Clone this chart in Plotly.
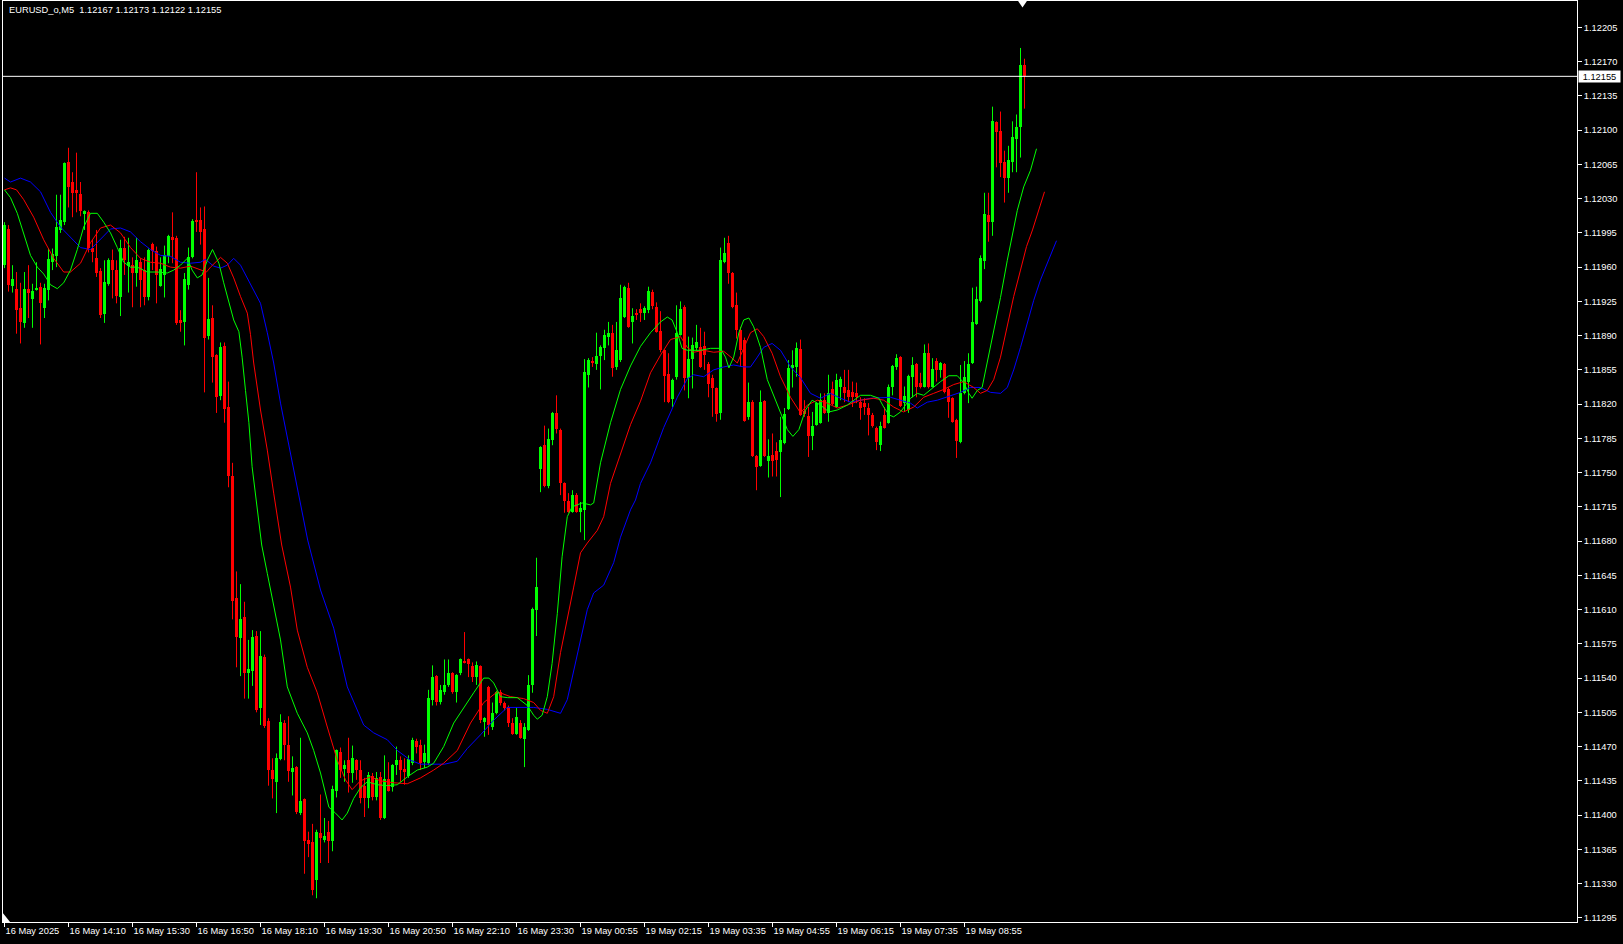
import plotly.graph_objects as go

SYMBOL = "EURUSD_o,M5"

OPEN = [
1.11962,1.11999,1.11941,1.11938,1.11918,1.11903,1.11938,1.11927,1.11937,1.11940,1.11918,1.11937,1.11965,1.11971,1.11998,1.12006,
1.12067,1.12047,1.12038,1.12035,1.12015,1.12016,1.11980,1.11969,1.11956,1.11912,1.11943,1.11967,1.11957,1.11929,1.11980,1.11961,
1.11962,1.11954,1.11965,1.11957,1.11929,1.11984,1.11976,1.11941,1.11952,1.11971,1.11991,1.11990,1.11906,1.11904,1.11942,1.11970,
1.12008,1.12008,1.11999,1.11890,1.11908,1.11870,1.11828,1.11879,1.11817,1.11747,1.11622,1.11581,1.11602,1.11545,1.11547,1.11583,
1.11509,1.11562,1.11496,1.11446,1.11434,1.11457,1.11494,1.11472,1.11444,1.11449,1.11402,1.11416,1.11375,1.11372,1.11334,1.11382,
1.11375,1.11383,1.11373,1.11425,1.11464,1.11447,1.11456,1.11443,1.11456,1.11446,1.11430,1.11417,1.11440,1.11418,1.11439,1.11397,
1.11437,1.11429,1.11451,1.11456,1.11447,1.11440,1.11453,1.11476,1.11472,1.11454,1.11453,1.11518,1.11542,1.11516,1.11526,1.11533,
1.11545,1.11526,1.11545,1.11557,1.11559,1.11552,1.11541,1.11552,1.11495,1.11531,1.11490,1.11504,1.11526,1.11515,1.11510,1.11494,
1.11483,1.11494,1.11478,1.11487,1.11533,1.11610,1.11754,1.11778,1.11736,1.11783,1.11811,1.11794,1.11739,1.11721,1.11710,1.11727,
1.11710,1.11712,1.11850,1.11864,1.11861,1.11869,1.11877,1.11889,1.11893,1.11858,1.11865,1.11909,1.11939,1.11904,1.11913,1.11917,
1.11913,1.11916,1.11935,1.11919,1.11895,1.11875,1.11851,1.11825,1.11848,1.11891,1.11919,1.11847,1.11866,1.11877,1.11878,1.11879,
1.11861,1.11847,1.11836,1.11811,1.11965,1.11985,1.11954,1.11921,1.11896,1.11886,1.11807,1.11822,1.11767,1.11757,1.11823,1.11762,
1.11768,1.11772,1.11771,1.11780,1.11815,1.11857,1.11858,1.11876,1.11812,1.11808,1.11787,1.11799,1.11801,1.11824,1.11811,1.11835,
1.11817,1.11837,1.11838,1.11834,1.11832,1.11831,1.11822,1.11821,1.11816,1.11809,1.11796,1.11778,1.11809,1.11801,1.11837,1.11858,
1.11868,1.11821,1.11814,1.11848,1.11861,1.11842,1.11838,1.11872,1.11838,1.11864,1.11855,1.11861,1.11835,1.11826,1.11804,1.11781,
1.11831,1.11843,1.11862,1.11902,1.11925,1.11966,1.12013,1.12006,1.12108,1.12099,1.12067,1.12051,1.12067,1.12091,1.12103,1.12167,
]

HIGH = [
1.12006,1.12003,1.11962,1.11955,1.11944,1.11955,1.11962,1.11943,1.11965,1.11944,1.11943,1.11979,1.11979,1.12034,1.12034,1.12067,
1.12082,1.12057,1.12077,1.12047,1.12018,1.12018,1.11988,1.11998,1.11959,1.11967,1.11969,1.11978,1.11967,1.11988,1.11991,1.11990,
1.11970,1.11990,1.11969,1.11970,1.11979,1.11985,1.11981,1.11970,1.11982,1.11993,1.12016,1.11992,1.11916,1.11954,1.11980,1.12009,
1.12057,1.12021,1.12022,1.11949,1.11921,1.11871,1.11883,1.11883,1.11843,1.11760,1.11649,1.11636,1.11618,1.11579,1.11589,1.11588,
1.11588,1.11564,1.11499,1.11458,1.11463,1.11503,1.11497,1.11501,1.11460,1.11450,1.11479,1.11417,1.11383,1.11391,1.11385,1.11421,
1.11397,1.11394,1.11430,1.11467,1.11469,1.11456,1.11479,1.11471,1.11457,1.11456,1.11438,1.11444,1.11443,1.11444,1.11444,1.11461,
1.11454,1.11452,1.11470,1.11460,1.11458,1.11461,1.11479,1.11478,1.11477,1.11472,1.11528,1.11553,1.11543,1.11533,1.11559,1.11559,
1.11546,1.11544,1.11560,1.11587,1.11560,1.11556,1.11557,1.11553,1.11500,1.11532,1.11515,1.11527,1.11528,1.11516,1.11512,1.11499,
1.11510,1.11497,1.11494,1.11543,1.11612,1.11663,1.11777,1.11798,1.11795,1.11812,1.11829,1.11795,1.11740,1.11729,1.11732,1.11729,
1.11720,1.11866,1.11867,1.11868,1.11893,1.11880,1.11896,1.11904,1.11901,1.11904,1.11942,1.11941,1.11944,1.11918,1.11917,1.11923,
1.11920,1.11940,1.11937,1.11924,1.11915,1.11876,1.11872,1.11846,1.11921,1.11925,1.11921,1.11889,1.11888,1.11901,1.11898,1.11894,
1.11863,1.11850,1.11837,1.11980,1.11990,1.11992,1.11955,1.11934,1.11899,1.11888,1.11842,1.11824,1.11768,1.11834,1.11824,1.11784,
1.11790,1.11781,1.11807,1.11816,1.11865,1.11875,1.11883,1.11886,1.11824,1.11817,1.11812,1.11822,1.11831,1.11831,1.11850,1.11843,
1.11851,1.11848,1.11855,1.11855,1.11843,1.11842,1.11827,1.11826,1.11821,1.11811,1.11797,1.11802,1.11817,1.11840,1.11860,1.11871,
1.11869,1.11838,1.11850,1.11868,1.11862,1.11852,1.11881,1.11882,1.11867,1.11867,1.11863,1.11862,1.11837,1.11827,1.11805,1.11860,
1.11864,1.11872,1.11939,1.11940,1.11972,1.12036,1.12036,1.12124,1.12109,1.12119,1.12079,1.12084,1.12109,1.12116,1.12184,1.12173,
]

LOW = [
1.11959,1.11935,1.11934,1.11892,1.11882,1.11898,1.11908,1.11898,1.11936,1.11881,1.11908,1.11926,1.11957,1.11960,1.11995,1.12003,
1.12021,1.12011,1.12016,1.12012,1.11998,1.11975,1.11965,1.11950,1.11908,1.11903,1.11941,1.11928,1.11923,1.11910,1.11952,1.11934,
1.11919,1.11940,1.11919,1.11921,1.11926,1.11957,1.11923,1.11940,1.11929,1.11964,1.11964,1.11901,1.11894,1.11880,1.11937,1.11969,
1.11996,1.11983,1.11832,1.11886,1.11842,1.11811,1.11824,1.11801,1.11735,1.11600,1.11551,1.11542,1.11519,1.11519,1.11532,1.11505,
1.11492,1.11489,1.11430,1.11417,1.11402,1.11456,1.11456,1.11434,1.11420,1.11401,1.11400,1.11340,1.11357,1.11318,1.11315,1.11351,
1.11372,1.11351,1.11363,1.11418,1.11438,1.11434,1.11423,1.11433,1.11436,1.11412,1.11398,1.11407,1.11415,1.11415,1.11395,1.11396,
1.11424,1.11424,1.11441,1.11434,1.11431,1.11438,1.11451,1.11463,1.11446,1.11448,1.11451,1.11512,1.11512,1.11513,1.11523,1.11531,
1.11524,1.11515,1.11543,1.11555,1.11541,1.11536,1.11533,1.11494,1.11480,1.11482,1.11487,1.11503,1.11512,1.11507,1.11490,1.11482,
1.11482,1.11478,1.11449,1.11486,1.11525,1.11583,1.11730,1.11735,1.11734,1.11778,1.11790,1.11727,1.11709,1.11709,1.11709,1.11709,
1.11689,1.11681,1.11837,1.11858,1.11855,1.11835,1.11865,1.11880,1.11848,1.11855,1.11863,1.11908,1.11898,1.11882,1.11906,1.11904,
1.11906,1.11913,1.11917,1.11893,1.11873,1.11822,1.11821,1.11817,1.11845,1.11890,1.11834,1.11826,1.11836,1.11875,1.11857,1.11855,
1.11827,1.11807,1.11802,1.11804,1.11964,1.11943,1.11918,1.11887,1.11858,1.11802,1.11804,1.11766,1.11732,1.11756,1.11766,1.11745,
1.11746,1.11746,1.11725,1.11779,1.11814,1.11837,1.11848,1.11808,1.11807,1.11766,1.11773,1.11798,1.11800,1.11810,1.11802,1.11819,
1.11816,1.11824,1.11822,1.11822,1.11817,1.11821,1.11804,1.11809,1.11788,1.11796,1.11773,1.11772,1.11795,1.11800,1.11829,1.11855,
1.11817,1.11812,1.11811,1.11827,1.11827,1.11836,1.11837,1.11836,1.11837,1.11843,1.11847,1.11831,1.11806,1.11801,1.11765,1.11780,
1.11830,1.11821,1.11861,1.11901,1.11924,1.11958,1.11986,1.11992,1.12062,1.12052,1.12026,1.12036,1.12057,1.12057,1.12072,1.12122,
]

CLOSE = [
1.12003,1.11942,1.11948,1.11916,1.11904,1.11938,1.11934,1.11936,1.11939,1.11923,1.11939,1.11968,1.11973,1.12001,1.12008,1.12066,
1.12042,1.12036,1.12036,1.12017,1.12017,1.11980,1.11975,1.11954,1.11911,1.11945,1.11967,1.11957,1.11930,1.11980,1.11967,1.11965,
1.11954,1.11967,1.11947,1.11929,1.11978,1.11976,1.11952,1.11958,1.11972,1.11992,1.11988,1.11903,1.11903,1.11948,1.11970,1.12007,
1.12006,1.11996,1.11888,1.11907,1.11868,1.11827,1.11878,1.11815,1.11747,1.11619,1.11582,1.11600,1.11545,1.11549,1.11582,1.11507,
1.11563,1.11491,1.11446,1.11437,1.11458,1.11495,1.11472,1.11445,1.11448,1.11403,1.11414,1.11373,1.11370,1.11323,1.11383,1.11377,
1.11379,1.11373,1.11427,1.11466,1.11446,1.11451,1.11443,1.11458,1.11446,1.11417,1.11417,1.11441,1.11418,1.11438,1.11397,1.11437,
1.11425,1.11451,1.11456,1.11446,1.11444,1.11457,1.11477,1.11470,1.11453,1.11463,1.11520,1.11541,1.11516,1.11528,1.11533,1.11545,
1.11526,1.11543,1.11559,1.11556,1.11554,1.11541,1.11553,1.11497,1.11499,1.11492,1.11504,1.11526,1.11515,1.11509,1.11494,1.11483,
1.11500,1.11479,1.11490,1.11533,1.11611,1.11633,1.11776,1.11736,1.11784,1.11811,1.11795,1.11739,1.11721,1.11710,1.11727,1.11710,
1.11714,1.11853,1.11865,1.11862,1.11869,1.11878,1.11891,1.11893,1.11857,1.11875,1.11928,1.11940,1.11899,1.11910,1.11911,1.11913,
1.11918,1.11936,1.11920,1.11894,1.11875,1.11849,1.11822,1.11845,1.11893,1.11917,1.11847,1.11866,1.11880,1.11883,1.11858,1.11870,
1.11841,1.11836,1.11810,1.11967,1.11974,1.11954,1.11919,1.11896,1.11875,1.11803,1.11822,1.11767,1.11756,1.11822,1.11767,1.11767,
1.11762,1.11763,1.11783,1.11810,1.11857,1.11860,1.11877,1.11809,1.11810,1.11787,1.11798,1.11821,1.11824,1.11811,1.11831,1.11820,
1.11845,1.11846,1.11831,1.11827,1.11827,1.11827,1.11816,1.11817,1.11809,1.11798,1.11781,1.11798,1.11796,1.11837,1.11859,1.11867,
1.11818,1.11828,1.11849,1.11860,1.11838,1.11837,1.11872,1.11837,1.11856,1.11855,1.11862,1.11832,1.11822,1.11802,1.11782,1.11831,
1.11848,1.11861,1.11904,1.11927,1.11969,1.12014,1.12006,1.12109,1.12098,1.12066,1.12051,1.12069,1.12093,1.12103,1.12167,1.12155,
]

# Bill Williams Alligator lines (bar index, price)
LIPS_X = [0,1.5,3.2,4.8,6.5,8.2,9.8,11.5,13.2,14.8,16.5,18.2,19.8,21.5,23.2,24.8,26.5,28.2,29.8,31.5,
          33.2,35.7,38.2,40.7,42.3,44,45.7,46.9,48.2,49.4,50.7,52,53.6,54.8,56.1,57.3,58.6,59.4,60.25,61.1,
          61.9,63.2,64.3,65.7,67.3,69,70.7,73.2,75.7,77.3,79,81.1,82.75,84.4,85.7,87.3,89,90.7,93.2,95.7,
          98.2,100.7,103.2,105.7,107.3,109.8,112.3,114.8,117.3,119.8,121.1,122.3,124,125.7,128.2,130.7,132.3,133.2,134.4,135.7,
          136.9,138.2,139.4,140.7,141.9,144.4,146.5,147.3,149,151.5,154,156.5,159,161.5,164,165.7,166.9,168.2,169.4,170.7,
          174,176.5,179,180.25,181.1,182.3,183.6,184.8,186.1,187.3,189,190.7,192.3,194,195.7,197.1,198.6,200.25,201.9,204,
          206.1,208.2,210.7,214,216.5,218.6,219.8,221.1,222.3,224,225.25,226.5,228.2,229.8,231.9,234,236.1,238.2,239.8,241.1,
          241.9,243.2,244.4,245.7,247.3,249,250.7,251.7,253.2,254.8,256.5,258]
LIPS_Y = [1.12039,1.12031,1.12015,1.11993,1.11972,1.11960,1.11953,1.11942,1.11938,1.11944,
          1.11957,1.11978,1.12001,1.12015,1.12015,1.12006,1.11995,1.11980,1.11965,1.11960,
          1.11960,1.11955,1.11955,1.11954,1.11957,1.11962,1.11969,1.11957,1.11949,1.11952,
          1.11967,1.11978,1.11964,1.11944,1.11923,1.11906,1.11894,1.11868,1.11834,1.11801,
          1.11756,1.11712,1.11676,1.11647,1.11613,1.11579,1.11531,1.11504,1.11484,1.11466,
          1.11443,1.11408,1.11402,1.11395,1.11402,1.11417,1.11428,1.11434,1.11431,1.11430,
          1.11431,1.11439,1.11446,1.11449,1.11453,1.11470,1.11494,1.11510,1.11525,1.11540,
          1.11540,1.11535,1.11521,1.11520,1.11520,1.11512,1.11502,1.11498,1.11502,1.11521,
          1.11555,1.11606,1.11664,1.11705,1.11715,1.11719,1.11717,1.11719,1.11760,1.11801,
          1.11835,1.11859,1.11879,1.11893,1.11904,1.11909,1.11906,1.11893,1.11877,1.11875,
          1.11875,1.11877,1.11877,1.11868,1.11857,1.11868,1.11893,1.11906,1.11908,1.11899,
          1.11878,1.11845,1.11829,1.11811,1.11794,1.11787,1.11794,1.11814,1.11824,1.11819,
          1.11812,1.11814,1.11819,1.11829,1.11829,1.11826,1.11817,1.11809,1.11807,1.11812,
          1.11819,1.11826,1.11831,1.11829,1.11836,1.11843,1.11849,1.11849,1.11842,1.11831,
          1.11826,1.11834,1.11837,1.11862,1.11896,1.11929,1.11967,1.11988,1.12018,1.12042,
          1.12059,1.12081]

TEETH_X = [0,1.5,3,4.8,7.3,9.8,12.3,14.8,16.5,19,21.5,24,26.5,29,31.5,34,36.5,39,41.5,44,
           46.5,49,50.5,51.5,54,55.7,57.3,59,60.7,61.5,62.3,64,65.7,67.3,69.3,71.5,73.2,75.7,78.2,80.7,
           83.2,85.25,86.9,89,91.5,94,97.3,100.7,104,107.3,109.8,113.2,116.5,119.8,123.2,126.5,129.8,132.3,134,135.7,
           137.3,139,140.7,142.3,144,145.7,148.2,149.8,151.5,154,156.5,159,161.5,164,166.5,169,170.7,172.3,174.8,177.3,
           179.8,181.9,183.2,184.8,186.5,188.2,189.8,191.9,194,196.5,199,200.7,203.2,205.7,208.2,210.7,214,217.3,219.8,222.3,
           224.8,227.3,229.8,232.3,234.8,237.3,239.8,242.3,244,245.7,247.3,249,250.7,252.3,254,255.5,257,258.8,260]
TEETH_Y = [1.12039,1.12041,1.12039,1.12029,1.12011,1.11988,1.11969,1.11955,1.11955,1.11964,
           1.11985,1.12000,1.12003,1.11995,1.11980,1.11969,1.11965,1.11964,1.11960,1.11959,
           1.11961,1.11957,1.11955,1.11960,1.11970,1.11964,1.11949,1.11930,1.11913,1.11891,
           1.11862,1.11814,1.11773,1.11729,1.11676,1.11633,1.11589,1.11551,1.11525,1.11490,
           1.11456,1.11436,1.11426,1.11435,1.11439,1.11435,1.11433,1.11432,1.11438,1.11446,
           1.11453,1.11466,1.11494,1.11515,1.11526,1.11521,1.11519,1.11515,1.11507,1.11504,
           1.11521,1.11566,1.11599,1.11633,1.11668,1.11678,1.11691,1.11705,1.11739,1.11768,
           1.11799,1.11823,1.11852,1.11870,1.11886,1.11889,1.11878,1.11873,1.11875,1.11873,
           1.11874,1.11867,1.11862,1.11877,1.11893,1.11897,1.11889,1.11872,1.11848,1.11827,
           1.11811,1.11819,1.11824,1.11821,1.11816,1.11819,1.11824,1.11826,1.11824,1.11817,
           1.11812,1.11817,1.11827,1.11831,1.11835,1.11840,1.11843,1.11837,1.11831,1.11834,
           1.11845,1.11868,1.11899,1.11930,1.11957,1.11981,1.11998,1.12020,1.12037]

JAW_X = [0,1.5,4,6.5,9,11.5,14,16.5,19,21.5,24,26.5,29,31.5,34,36.5,39,41.5,44,46.5,
         49,50.2,52.3,54,55.7,57.3,59,60.7,62.3,64,65.7,67.3,69,70.7,72.3,74,75.8,79,82.3,85.7,
         89.8,92.3,95.7,98.2,101.5,104,107.3,110,113.2,115.7,119,122.3,125.7,129,132.3,135.7,139,140.7,142.3,144,
         145.7,147.3,149.8,152.3,154,156.5,157.75,159,161.5,164.8,168.2,170.7,172.3,174.8,177.3,179.8,182.3,184.8,186.5,188.2,
         189.8,191.9,194,196.5,199,201.5,204,206.5,209,211.5,214,216.5,221.5,224,226.5,228.2,230.7,233.2,236.5,239,
         241.5,244,246.5,249,250.7,252.3,254,255.7,257.3,259,261,263]
JAW_Y = [1.12051,1.12047,1.12051,1.12047,1.12037,1.12016,1.12001,1.11991,1.11980,1.11978,
         1.11988,1.11999,1.12000,1.11996,1.11986,1.11978,1.11972,1.11971,1.11965,1.11964,
         1.11965,1.11968,1.11961,1.11959,1.11962,1.11969,1.11962,1.11949,1.11937,1.11923,
         1.11893,1.11862,1.11821,1.11786,1.11753,1.11719,1.11681,1.11630,1.11591,1.11531,
         1.11492,1.11484,1.11477,1.11466,1.11456,1.11452,1.11452,1.11452,1.11455,1.11468,
         1.11482,1.11497,1.11510,1.11510,1.11510,1.11508,1.11504,1.11518,1.11548,1.11579,
         1.11610,1.11627,1.11635,1.11658,1.11684,1.11712,1.11722,1.11739,1.11760,1.11796,
         1.11827,1.11846,1.11850,1.11848,1.11855,1.11858,1.11860,1.11858,1.11858,1.11868,
         1.11878,1.11882,1.11875,1.11858,1.11847,1.11831,1.11826,1.11831,1.11826,1.11822,
         1.11824,1.11826,1.11827,1.11824,1.11821,1.11816,1.11822,1.11824,1.11829,1.11832,
         1.11837,1.11837,1.11832,1.11831,1.11837,1.11855,1.11878,1.11903,1.11926,1.11947,
         1.11967,1.11987]

TIME_TICK_BARS = [0,16,32,48,64,80,96,112,128,144,160,176,192,208,224,240]
TIME_TICK_LABELS = ["16 May 2025","16 May 14:10","16 May 15:30","16 May 16:50","16 May 18:10",
                    "16 May 19:30","16 May 20:50","16 May 22:10","16 May 23:30","19 May 00:55",
                    "19 May 02:15","19 May 03:35","19 May 04:55","19 May 06:15","19 May 07:35",
                    "19 May 08:55"]
PRICE_TICK_LABELS = ["1.11295","1.11330","1.11365","1.11400","1.11435","1.11470","1.11505",
                     "1.11540","1.11575","1.11610","1.11645","1.11680","1.11715","1.11750",
                     "1.11785","1.11820","1.11855","1.11890","1.11925","1.11960","1.11995",
                     "1.12030","1.12065","1.12100","1.12135","1.12170","1.12205"]

BULL = "#00ff00"
BEAR = "#ff0000"
FONT = "Liberation Sans, Arial, sans-serif"
FS = 9.3

bars = list(range(len(OPEN)))
fig = go.Figure()

# wicks
for color, up in ((BULL, True), (BEAR, False)):
    xs, ys = [], []
    for i, (o, h, l, c) in enumerate(zip(OPEN, HIGH, LOW, CLOSE)):
        if (c >= o) == up:
            xs += [i, i, None]
            ys += [l, h, None]
    fig.add_trace(go.Scatter(x=xs, y=ys, mode="lines", line=dict(color=color, width=1),
                             hoverinfo="skip", showlegend=False))

# bodies
fig.add_trace(go.Bar(
    x=bars, y=[c - o for o, c in zip(OPEN, CLOSE)], base=OPEN, width=0.75,
    marker=dict(color=[BULL if c >= o else BEAR for o, c in zip(OPEN, CLOSE)], line=dict(width=0)),
    hoverinfo="skip", showlegend=False))

# alligator
for xs, ys, col in ((JAW_X, JAW_Y, "#0000ff"), (TEETH_X, TEETH_Y, "#ff0000"), (LIPS_X, LIPS_Y, "#00ff00")):
    fig.add_trace(go.Scatter(x=xs, y=ys, mode="lines", line=dict(color=col, width=1),
                             hoverinfo="skip", showlegend=False))

last = CLOSE[-1]
fig.add_shape(type="line", xref="paper", x0=0, x1=1, yref="y", y0=last, y1=last,
              line=dict(color="#ffffff", width=1), layer="above")
# shift marker at top and corner marker
fig.add_shape(type="path", xref="x", yref="paper",
              path=f"M {len(OPEN)-2.6},1 L {len(OPEN)-0.4},1 L {len(OPEN)-1.5},0.993 Z",
              fillcolor="#ffffff", line=dict(width=0))
fig.add_shape(type="path", xref="paper", yref="paper",
              path="M 0,0 L 0,0.0095 L 0.0045,0 Z", fillcolor="#ffffff", line=dict(width=0))

fig.add_annotation(xref="paper", x=1, xanchor="left", yref="y", y=last,
                   text=f"{last:.5f}", showarrow=False, bgcolor="#ffffff",
                   font=dict(family=FONT, size=FS, color="#000000"),
                   width=39, height=9, borderpad=1, xshift=1)
fig.add_annotation(xref="paper", x=0, xanchor="left", yref="paper", y=1, yanchor="top",
                   text=f"{SYMBOL}&nbsp; {OPEN[-1]:.5f} {HIGH[-1]:.5f} {LOW[-1]:.5f} {CLOSE[-1]:.5f}",
                   showarrow=False, font=dict(family=FONT, size=FS, color="#ffffff"),
                   xshift=4, yshift=-2)

fig.update_layout(
    width=1623, height=944,
    margin=dict(l=3, r=46, t=1, b=22, pad=0),
    paper_bgcolor="#000000", plot_bgcolor="#000000",
    showlegend=False, hovermode=False, bargap=0,
    font=dict(family=FONT, size=FS, color="#ffffff"),
    xaxis=dict(range=[-0.375, 393.125], tickmode="array", tickvals=TIME_TICK_BARS,
               ticktext=TIME_TICK_LABELS, ticks="outside", ticklen=4, tickcolor="#ffffff",
               showline=True, linecolor="#ffffff", linewidth=1, mirror=True,
               showgrid=False, zeroline=False, automargin=False, tickangle=0,
               ticklabelposition="outside right",
               tickfont=dict(family=FONT, size=FS, color="#ffffff")),
    yaxis=dict(side="right", range=[1.112907, 1.122320], tickmode="array",
               tickvals=[float(t) for t in PRICE_TICK_LABELS], ticktext=PRICE_TICK_LABELS,
               ticks="outside", ticklen=4, tickcolor="#ffffff",
               showline=True, linecolor="#ffffff", linewidth=1, mirror=True,
               showgrid=False, zeroline=False, automargin=False,
               tickfont=dict(family=FONT, size=FS, color="#ffffff")),
)

fig.write_html("out.html", config={"displayModeBar": False},
               post_script="document.body.style.margin='0px';document.body.style.overflow='hidden';")
